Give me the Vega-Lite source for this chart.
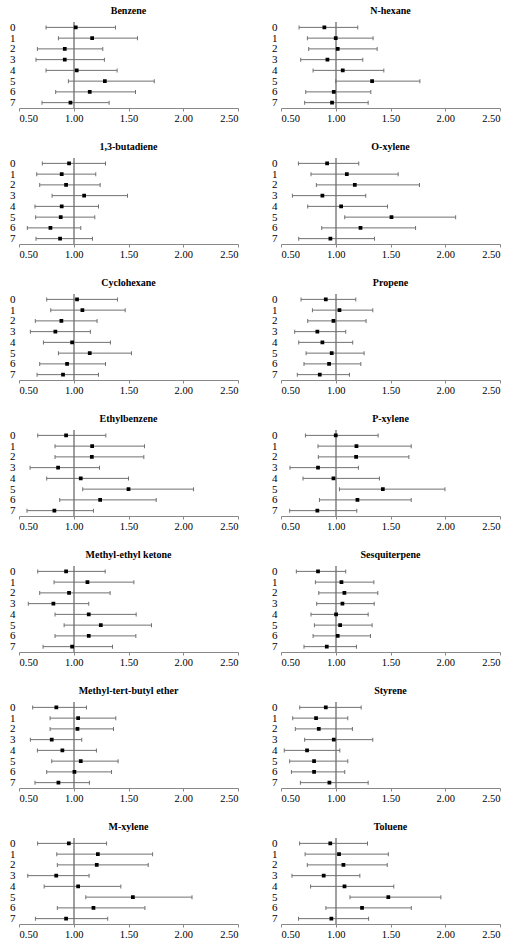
{
  "$schema": "https://vega.github.io/schema/vega-lite/v6.json",
  "background": "white",
  "padding": {"left": 9, "top": 6, "right": 8, "bottom": 4},
  "config": {"view": {"stroke": null}, "axisY": {"minExtent": 0}, "axisX": {"minExtent": 0}},
  "data": {"values": [
    {"c":"Benzene","g":0,"or":1.018,"lo":0.747,"hi":1.381},
    {"c":"Benzene","g":1,"or":1.168,"lo":0.860,"hi":1.582},
    {"c":"Benzene","g":2,"or":0.918,"lo":0.668,"hi":1.265},
    {"c":"Benzene","g":3,"or":0.918,"lo":0.655,"hi":1.280},
    {"c":"Benzene","g":4,"or":1.027,"lo":0.747,"hi":1.396},
    {"c":"Benzene","g":5,"or":1.284,"lo":0.951,"hi":1.735},
    {"c":"Benzene","g":6,"or":1.146,"lo":0.835,"hi":1.564},
    {"c":"Benzene","g":7,"or":0.970,"lo":0.710,"hi":1.323},
    {"c":"N-hexane","g":0,"or":0.896,"lo":0.665,"hi":1.201},
    {"c":"N-hexane","g":1,"or":1.000,"lo":0.741,"hi":1.341},
    {"c":"N-hexane","g":2,"or":1.018,"lo":0.753,"hi":1.378},
    {"c":"N-hexane","g":3,"or":0.924,"lo":0.680,"hi":1.247},
    {"c":"N-hexane","g":4,"or":1.064,"lo":0.793,"hi":1.439},
    {"c":"N-hexane","g":5,"or":1.332,"lo":1.000,"hi":1.768},
    {"c":"N-hexane","g":6,"or":0.982,"lo":0.726,"hi":1.320},
    {"c":"N-hexane","g":7,"or":0.966,"lo":0.716,"hi":1.296},
    {"c":"1,3-butadiene","g":0,"or":0.957,"lo":0.713,"hi":1.290},
    {"c":"1,3-butadiene","g":1,"or":0.890,"lo":0.662,"hi":1.201},
    {"c":"1,3-butadiene","g":2,"or":0.930,"lo":0.689,"hi":1.241},
    {"c":"1,3-butadiene","g":3,"or":1.095,"lo":0.802,"hi":1.491},
    {"c":"1,3-butadiene","g":4,"or":0.890,"lo":0.646,"hi":1.226},
    {"c":"1,3-butadiene","g":5,"or":0.881,"lo":0.652,"hi":1.192},
    {"c":"1,3-butadiene","g":6,"or":0.787,"lo":0.576,"hi":1.064},
    {"c":"1,3-butadiene","g":7,"or":0.875,"lo":0.655,"hi":1.171},
    {"c":"O-xylene","g":0,"or":0.921,"lo":0.659,"hi":1.210},
    {"c":"O-xylene","g":1,"or":1.101,"lo":0.774,"hi":1.570},
    {"c":"O-xylene","g":2,"or":1.174,"lo":0.823,"hi":1.765},
    {"c":"O-xylene","g":3,"or":0.878,"lo":0.604,"hi":1.274},
    {"c":"O-xylene","g":4,"or":1.049,"lo":0.744,"hi":1.473},
    {"c":"O-xylene","g":5,"or":1.509,"lo":1.082,"hi":2.095},
    {"c":"O-xylene","g":6,"or":1.226,"lo":0.872,"hi":1.729},
    {"c":"O-xylene","g":7,"or":0.951,"lo":0.662,"hi":1.354},
    {"c":"Cyclohexane","g":0,"or":1.030,"lo":0.753,"hi":1.399},
    {"c":"Cyclohexane","g":1,"or":1.079,"lo":0.790,"hi":1.470},
    {"c":"Cyclohexane","g":2,"or":0.887,"lo":0.649,"hi":1.213},
    {"c":"Cyclohexane","g":3,"or":0.832,"lo":0.604,"hi":1.152},
    {"c":"Cyclohexane","g":4,"or":0.985,"lo":0.723,"hi":1.335},
    {"c":"Cyclohexane","g":5,"or":1.146,"lo":0.860,"hi":1.527},
    {"c":"Cyclohexane","g":6,"or":0.939,"lo":0.689,"hi":1.290},
    {"c":"Cyclohexane","g":7,"or":0.902,"lo":0.665,"hi":1.226},
    {"c":"Propene","g":0,"or":0.909,"lo":0.683,"hi":1.183},
    {"c":"Propene","g":1,"or":1.034,"lo":0.787,"hi":1.338},
    {"c":"Propene","g":2,"or":0.979,"lo":0.744,"hi":1.277},
    {"c":"Propene","g":3,"or":0.832,"lo":0.625,"hi":1.091},
    {"c":"Propene","g":4,"or":0.878,"lo":0.662,"hi":1.155},
    {"c":"Propene","g":5,"or":0.963,"lo":0.729,"hi":1.259},
    {"c":"Propene","g":6,"or":0.939,"lo":0.710,"hi":1.229},
    {"c":"Propene","g":7,"or":0.854,"lo":0.649,"hi":1.125},
    {"c":"Ethylbenzene","g":0,"or":0.930,"lo":0.671,"hi":1.293},
    {"c":"Ethylbenzene","g":1,"or":1.168,"lo":0.829,"hi":1.646},
    {"c":"Ethylbenzene","g":2,"or":1.165,"lo":0.829,"hi":1.640},
    {"c":"Ethylbenzene","g":3,"or":0.857,"lo":0.601,"hi":1.235},
    {"c":"Ethylbenzene","g":4,"or":1.064,"lo":0.753,"hi":1.500},
    {"c":"Ethylbenzene","g":5,"or":1.500,"lo":1.082,"hi":2.094},
    {"c":"Ethylbenzene","g":6,"or":1.241,"lo":0.872,"hi":1.753},
    {"c":"Ethylbenzene","g":7,"or":0.823,"lo":0.573,"hi":1.180},
    {"c":"P-xylene","g":0,"or":1.000,"lo":0.723,"hi":1.387},
    {"c":"P-xylene","g":1,"or":1.189,"lo":0.838,"hi":1.689},
    {"c":"P-xylene","g":2,"or":1.186,"lo":0.841,"hi":1.668},
    {"c":"P-xylene","g":3,"or":0.838,"lo":0.582,"hi":1.207},
    {"c":"P-xylene","g":4,"or":0.979,"lo":0.701,"hi":1.399},
    {"c":"P-xylene","g":5,"or":1.430,"lo":1.034,"hi":1.997},
    {"c":"P-xylene","g":6,"or":1.198,"lo":0.851,"hi":1.689},
    {"c":"P-xylene","g":7,"or":0.832,"lo":0.579,"hi":1.192},
    {"c":"Methyl-ethyl ketone","g":0,"or":0.930,"lo":0.671,"hi":1.287},
    {"c":"Methyl-ethyl ketone","g":1,"or":1.125,"lo":0.820,"hi":1.549},
    {"c":"Methyl-ethyl ketone","g":2,"or":0.957,"lo":0.689,"hi":1.332},
    {"c":"Methyl-ethyl ketone","g":3,"or":0.814,"lo":0.585,"hi":1.137},
    {"c":"Methyl-ethyl ketone","g":4,"or":1.137,"lo":0.829,"hi":1.570},
    {"c":"Methyl-ethyl ketone","g":5,"or":1.247,"lo":0.912,"hi":1.710},
    {"c":"Methyl-ethyl ketone","g":6,"or":1.137,"lo":0.829,"hi":1.567},
    {"c":"Methyl-ethyl ketone","g":7,"or":0.985,"lo":0.720,"hi":1.354},
    {"c":"Sesquiterpene","g":0,"or":0.838,"lo":0.640,"hi":1.091},
    {"c":"Sesquiterpene","g":1,"or":1.052,"lo":0.814,"hi":1.348},
    {"c":"Sesquiterpene","g":2,"or":1.079,"lo":0.845,"hi":1.384},
    {"c":"Sesquiterpene","g":3,"or":1.061,"lo":0.826,"hi":1.351},
    {"c":"Sesquiterpene","g":4,"or":1.003,"lo":0.774,"hi":1.296},
    {"c":"Sesquiterpene","g":5,"or":1.040,"lo":0.805,"hi":1.332},
    {"c":"Sesquiterpene","g":6,"or":1.018,"lo":0.793,"hi":1.317},
    {"c":"Sesquiterpene","g":7,"or":0.918,"lo":0.710,"hi":1.189},
    {"c":"Methyl-tert-butyl ether","g":0,"or":0.841,"lo":0.625,"hi":1.116},
    {"c":"Methyl-tert-butyl ether","g":1,"or":1.040,"lo":0.784,"hi":1.384},
    {"c":"Methyl-tert-butyl ether","g":2,"or":1.034,"lo":0.784,"hi":1.363},
    {"c":"Methyl-tert-butyl ether","g":3,"or":0.799,"lo":0.604,"hi":1.073},
    {"c":"Methyl-tert-butyl ether","g":4,"or":0.896,"lo":0.668,"hi":1.207},
    {"c":"Methyl-tert-butyl ether","g":5,"or":1.064,"lo":0.799,"hi":1.405},
    {"c":"Methyl-tert-butyl ether","g":6,"or":1.006,"lo":0.753,"hi":1.345},
    {"c":"Methyl-tert-butyl ether","g":7,"or":0.860,"lo":0.646,"hi":1.143},
    {"c":"Styrene","g":0,"or":0.909,"lo":0.671,"hi":1.232},
    {"c":"Styrene","g":1,"or":0.820,"lo":0.607,"hi":1.110},
    {"c":"Styrene","g":2,"or":0.845,"lo":0.631,"hi":1.152},
    {"c":"Styrene","g":3,"or":0.982,"lo":0.716,"hi":1.338},
    {"c":"Styrene","g":4,"or":0.738,"lo":0.530,"hi":1.037},
    {"c":"Styrene","g":5,"or":0.802,"lo":0.579,"hi":1.110},
    {"c":"Styrene","g":6,"or":0.802,"lo":0.595,"hi":1.082},
    {"c":"Styrene","g":7,"or":0.942,"lo":0.677,"hi":1.296},
    {"c":"M-xylene","g":0,"or":0.955,"lo":0.670,"hi":1.300},
    {"c":"M-xylene","g":1,"or":1.220,"lo":0.845,"hi":1.720},
    {"c":"M-xylene","g":2,"or":1.210,"lo":0.850,"hi":1.680},
    {"c":"M-xylene","g":3,"or":0.840,"lo":0.580,"hi":1.140},
    {"c":"M-xylene","g":4,"or":1.040,"lo":0.730,"hi":1.430},
    {"c":"M-xylene","g":5,"or":1.540,"lo":1.110,"hi":2.080},
    {"c":"M-xylene","g":6,"or":1.180,"lo":0.850,"hi":1.650},
    {"c":"M-xylene","g":7,"or":0.930,"lo":0.650,"hi":1.310},
    {"c":"Toluene","g":0,"or":0.950,"lo":0.670,"hi":1.290},
    {"c":"Toluene","g":1,"or":1.030,"lo":0.720,"hi":1.480},
    {"c":"Toluene","g":2,"or":1.070,"lo":0.740,"hi":1.470},
    {"c":"Toluene","g":3,"or":0.890,"lo":0.600,"hi":1.220},
    {"c":"Toluene","g":4,"or":1.080,"lo":0.770,"hi":1.530},
    {"c":"Toluene","g":5,"or":1.480,"lo":1.130,"hi":1.960},
    {"c":"Toluene","g":6,"or":1.240,"lo":0.910,"hi":1.690},
    {"c":"Toluene","g":7,"or":0.960,"lo":0.660,"hi":1.300}
  ]},
  "facet": {
    "field": "c", "type": "nominal",
    "sort": ["Benzene","N-hexane","1,3-butadiene","O-xylene","Cyclohexane","Propene","Ethylbenzene","P-xylene","Methyl-ethyl ketone","Sesquiterpene","Methyl-tert-butyl ether","Styrene","M-xylene","Toluene"],
    "header": {"title": null, "labelFont": "Liberation Serif", "labelFontWeight": "bold", "labelFontSize": 10, "labelColor": "black", "labelPadding": 5}
  },
  "columns": 2,
  "spacing": {"row": 18, "column": 32},
  "resolve": {"axis": {"x": "independent", "y": "independent"}},
  "spec": {
    "width": 219,
    "height": 86,
    "layer": [
      {
        "mark": {"type": "rule", "color": "#a0a0a0", "strokeWidth": 1.5},
        "encoding": {
          "x": {"datum": 1, "type": "quantitative", "title": null,
            "scale": {"domain": [0.5, 2.5], "nice": false, "zero": false},
            "axis": {"title": null, "values": [0.5, 1, 1.5, 2, 2.5], "format": ".2f", "grid": false, "domainColor": "#888888", "tickColor": "#888888", "tickSize": 3, "labelFont": "Liberation Serif", "labelFontSize": 10.5, "labelColor": "black", "labelPadding": 2}}
        }
      },
      {
        "mark": {"type": "rule", "color": "#707070", "strokeWidth": 1},
        "encoding": {
          "x": {"field": "lo", "type": "quantitative", "title": null},
          "x2": {"field": "hi"},
          "y": {"field": "g", "type": "ordinal", "title": null,
            "scale": {"type": "point", "padding": 0.5},
            "axis": {"title": null, "domain": false, "ticks": false, "labelFont": "Liberation Serif", "labelFontSize": 11, "labelColor": "black", "labelPadding": 4, "labelAngle": 0}}
        }
      },
      {
        "mark": {"type": "tick", "orient": "vertical", "size": 4, "thickness": 1, "color": "#707070", "opacity": 1},
        "encoding": {
          "x": {"field": "lo", "type": "quantitative", "title": null},
          "y": {"field": "g", "type": "ordinal", "title": null}
        }
      },
      {
        "mark": {"type": "tick", "orient": "vertical", "size": 4, "thickness": 1, "color": "#707070", "opacity": 1},
        "encoding": {
          "x": {"field": "hi", "type": "quantitative", "title": null},
          "y": {"field": "g", "type": "ordinal", "title": null}
        }
      },
      {
        "mark": {"type": "square", "filled": true, "color": "black", "size": 14, "opacity": 1},
        "encoding": {
          "x": {"field": "or", "type": "quantitative", "title": null},
          "y": {"field": "g", "type": "ordinal", "title": null}
        }
      }
    ]
  }
}
